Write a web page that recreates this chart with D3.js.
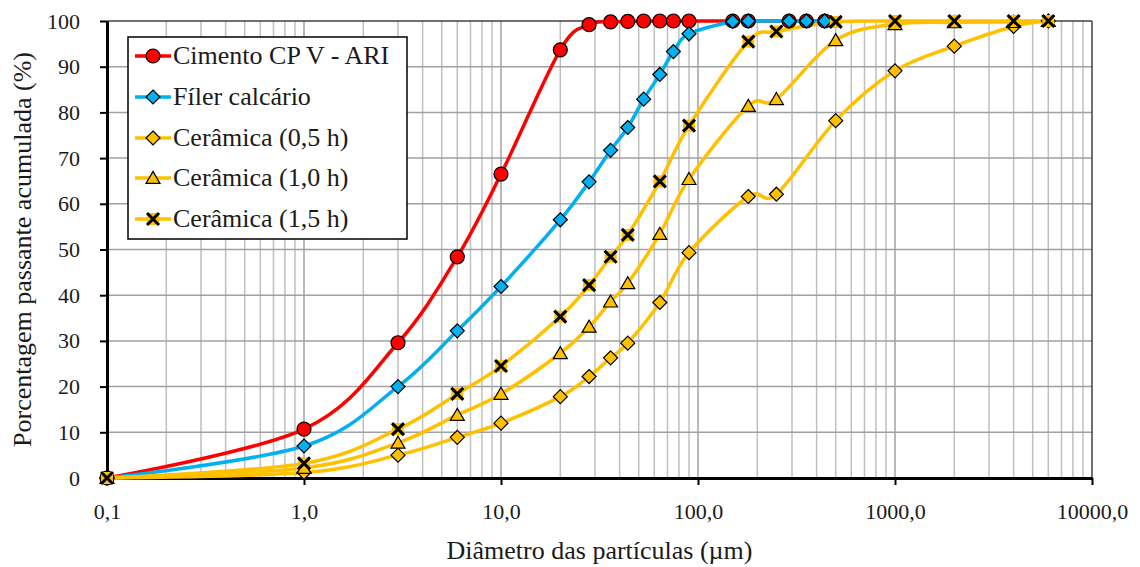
<!DOCTYPE html>
<html><head><meta charset="utf-8">
<script src="https://cdnjs.cloudflare.com/ajax/libs/d3/7.8.5/d3.min.js"></script>
<style>
html,body{margin:0;padding:0;background:#fff;}
svg{display:block;}
text{font-family:"Liberation Serif","DejaVu Serif",serif;}
</style></head>
<body><svg id="c" width="1140" height="567"></svg>
<script>
// ---- data ----
const xCimento = [0.1,1,3,6,10,20,28,36,44,53,64,75,90,150,180,290,355,440];
const yCimento = [0,10.7,29.6,48.4,66.5,93.7,99.2,99.8,99.9,100,100,100,100,100,100,100,100,100];
const xFiler = [0.1,1,3,6,10,20,28,36,44,53,64,75,90,150,180,290,355,440];
const yFiler = [0,7.0,20.0,32.2,41.9,56.5,64.8,71.7,76.7,82.9,88.3,93.3,97.2,99.9,100,100,100,100];
const xCeramica = [0.1,1,3,6,10,20,28,36,44,64,90,180,250,500,1000,2000,4000,6000];
const yCer05 = [0,1.2,5.0,8.9,12.0,17.8,22.2,26.3,29.5,38.4,49.3,61.6,62.1,78.2,89.1,94.5,98.8,100];
const yCer10 = [0,2.2,7.7,13.8,18.4,27.3,33.1,38.6,42.6,53.4,65.4,81.4,82.9,95.8,99.3,99.7,99.8,100];
const yCer15 = [0,3.2,10.7,18.4,24.5,35.3,42.2,48.4,53.2,64.9,77.1,95.5,97.7,99.8,100,100,100,100];
const seriesNames = ["Cimento CP V - ARI","Fíler calcário","Cerâmica (0,5 h)","Cerâmica (1,0 h)","Cerâmica (1,5 h)"];
const xTickValues = [0.1,1,10,100,1000,10000];
const xTickLabels = ["0,1","1,0","10,0","100,0","1000,0","10000,0"];
const yTickValues = [0,10,20,30,40,50,60,70,80,90,100];
const xTitle = "Diâmetro das partículas (µm)";
const yTitle = "Porcentagem passante acumulada (%)";

const series = [
  {name:seriesNames[0], xs:xCimento, ys:yCimento, color:"#FF0000", marker:"circle"},
  {name:seriesNames[1], xs:xFiler, ys:yFiler, color:"#00B0F0", marker:"diamond"},
  {name:seriesNames[2], xs:xCeramica, ys:yCer05, color:"#FFC000", marker:"diamond"},
  {name:seriesNames[3], xs:xCeramica, ys:yCer10, color:"#FFC000", marker:"triangle"},
  {name:seriesNames[4], xs:xCeramica, ys:yCer15, color:"#FFC000", marker:"x"}
];

const FONT = "'Liberation Serif', 'DejaVu Serif', serif";
const TXT = "#1a1a1a";

// ---- layout ----
const L=107, R=1092, T=21, B=478;
const svg = d3.select("#c");
const x = d3.scaleLog().domain([0.1,10000]).range([L,R]);
const y = d3.scaleLinear().domain([0,100]).range([B,T]);

// grid
const minor = [];
for (let e=-1; e<4; e++) for (let m=2; m<10; m++) minor.push(m*Math.pow(10,e));
const g = svg.append("g");
g.selectAll("line.minor").data(minor).enter().append("line")
  .attr("x1",d=>x(d)).attr("x2",d=>x(d)).attr("y1",T).attr("y2",B)
  .attr("stroke","#BFBFBF").attr("stroke-width",1.5);
g.selectAll("line.major").data(xTickValues.slice(1,-1)).enter().append("line")
  .attr("x1",d=>x(d)).attr("x2",d=>x(d)).attr("y1",T).attr("y2",B)
  .attr("stroke","#A0A0A0").attr("stroke-width",1.5);
g.selectAll("line.h").data(yTickValues.slice(1,-1)).enter().append("line")
  .attr("x1",L).attr("x2",R).attr("y1",d=>y(d)).attr("y2",d=>y(d))
  .attr("stroke","#A0A0A0").attr("stroke-width",1.5);
// frame top/right
svg.append("line").attr("x1",L).attr("x2",R).attr("y1",T).attr("y2",T).attr("stroke","#404040").attr("stroke-width",1.5);
svg.append("line").attr("x1",R).attr("x2",R).attr("y1",T).attr("y2",B).attr("stroke","#404040").attr("stroke-width",1.5);

// axes
const xAxis = d3.axisBottom(x).tickValues(xTickValues).tickFormat((d,i)=>xTickLabels[i]).tickSize(7).tickSizeOuter(0);
const gx = svg.append("g").attr("transform",`translate(0,${B})`).call(xAxis).attr("font-family",FONT);
gx.select(".domain").attr("stroke","#000").attr("stroke-width",3);
gx.selectAll(".tick line").attr("stroke","#000").attr("stroke-width",2);
gx.selectAll(".tick text").attr("font-size",22).attr("fill",TXT).attr("y",25).attr("dy","0.71em");
const yAxis = d3.axisLeft(y).tickValues(yTickValues).tickSize(7).tickSizeOuter(0);
const gy = svg.append("g").attr("transform",`translate(${L},0)`).call(yAxis).attr("font-family",FONT);
gy.select(".domain").attr("stroke","#000").attr("stroke-width",3);
gy.selectAll(".tick line").attr("stroke","#000").attr("stroke-width",2);
gy.selectAll(".tick text").attr("font-size",22).attr("fill",TXT).attr("x",-27);

// titles
svg.append("text").attr("x",(L+R)/2).attr("y",559).attr("text-anchor","middle").attr("font-family",FONT)
  .attr("font-size",26).attr("fill",TXT).text(xTitle);
svg.append("text").attr("transform",`translate(31,${(T+B)/2}) rotate(-90)`).attr("text-anchor","middle").attr("font-family",FONT)
  .attr("font-size",26).attr("fill",TXT).text(yTitle);

// lines
const line = d3.line().curve(d3.curveCardinal.tension(0));
series.forEach(s=>{
  const pts = s.xs.map((v,i)=>[x(v), y(s.ys[i])]);
  svg.append("path").attr("d",line(pts)).attr("fill","none").attr("stroke",s.color).attr("stroke-width",3.5);
});

function drawMarker(sel, type, color, cx, cy){
  if(type==="circle"){
    sel.append("circle").attr("cx",cx).attr("cy",cy).attr("r",7).attr("fill",color).attr("stroke","#000").attr("stroke-width",1.2);
  } else if(type==="diamond"){
    const r=7;
    sel.append("path").attr("d",`M${cx},${cy-r}L${cx+r},${cy}L${cx},${cy+r}L${cx-r},${cy}Z`).attr("fill",color).attr("stroke","#000").attr("stroke-width",1.2);
  } else if(type==="triangle"){
    const h=12, w=7;
    sel.append("path").attr("d",`M${cx},${cy-h*0.55}L${cx+w},${cy+h*0.45}L${cx-w},${cy+h*0.45}Z`).attr("fill",color).attr("stroke","#000").attr("stroke-width",1.2);
  } else if(type==="x"){
    const r=6;
    sel.append("rect").attr("x",cx-r).attr("y",cy-r).attr("width",2*r).attr("height",2*r).attr("fill",color);
    sel.append("path").attr("d",`M${cx-r},${cy-r}L${cx+r},${cy+r}M${cx+r},${cy-r}L${cx-r},${cy+r}`).attr("stroke","#000").attr("stroke-width",3);
  }
}
series.forEach(s=>{
  const mg = svg.append("g");
  s.xs.forEach((v,i)=>drawMarker(mg, s.marker, s.color, x(v), y(s.ys[i])));
});

// legend
const lg = svg.append("g");
lg.append("rect").attr("x",128).attr("y",37).attr("width",279).attr("height",202).attr("fill","#fff").attr("stroke","#000").attr("stroke-width",1.5);
const rowY = [56,97,138,178,219];
series.forEach((s,i)=>{
  const yy=rowY[i];
  lg.append("line").attr("x1",135).attr("x2",171).attr("y1",yy).attr("y2",yy).attr("stroke",s.color).attr("stroke-width",3.5);
  drawMarker(lg, s.marker, s.color, 153, yy);
  lg.append("text").attr("x",173).attr("y",yy+8).attr("font-family",FONT).attr("font-size",26).attr("fill",TXT).text(s.name);
});
</script></body></html>
